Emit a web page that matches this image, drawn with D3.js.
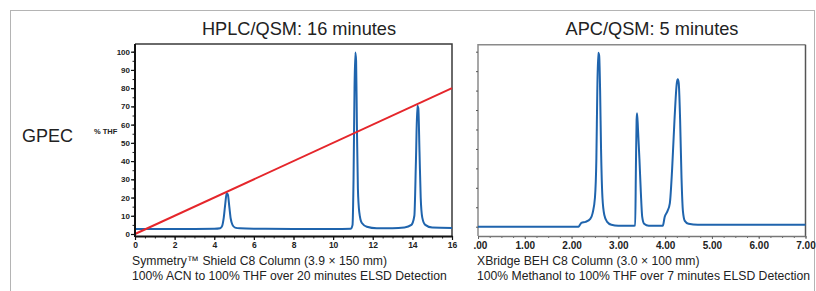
<!DOCTYPE html>
<html>
<head>
<meta charset="utf-8">
<script src="https://cdn.jsdelivr.net/npm/d3@7"></script>
<style>
  body { margin: 0; background: #fff; }
  svg { display: block; font-family: "Liberation Sans", Arial, sans-serif; }
</style>
</head>
<body>
<svg id="chart" width="816" height="291"></svg>
<script>
// ---- data ----
var hplcTrace = [
  [0, 2.8], [1, 2.8], [2, 2.8], [3, 2.8], [4, 2.9], [4.3, 3.2], [4.4, 4.5], [4.48, 9],
  [4.56, 17], [4.63, 22.5], [4.69, 21.5], [4.76, 15], [4.83, 8.5], [4.92, 5], [5.05, 3.5],
  [5.3, 3.1], [6, 2.9], [8, 2.8], [10, 2.8], [10.9, 2.9], [10.98, 5], [11.03, 30],
  [11.08, 80], [11.12, 99.5], [11.16, 95], [11.2, 60], [11.25, 25], [11.32, 12],
  [11.45, 6], [11.7, 4], [12.2, 3.2], [13, 3.2], [13.6, 3.6], [13.95, 5], [14.1, 10],
  [14.18, 40], [14.25, 70.3], [14.3, 69], [14.36, 45], [14.42, 20], [14.5, 9],
  [14.65, 5], [15, 3.5], [16, 3.3]
];
var hplcGradient = [[0, 0], [16, 80]];   // % THF
var hplcXTicks = [0, 2, 4, 6, 8, 10, 12, 14, 16];
var hplcYTicks = [0, 10, 20, 30, 40, 50, 60, 70, 80, 90, 100];

var apcTrace = [
  [0, 0], [1, 0], [2, 0], [2.15, 0], [2.18, 1], [2.21, 2], [2.3, 2.5], [2.4, 4],
  [2.45, 7], [2.5, 15], [2.53, 35], [2.55, 70], [2.57, 89.5], [2.59, 88], [2.61, 70],
  [2.63, 40], [2.66, 15], [2.7, 6], [2.76, 2.5], [2.85, 1], [3, 0.5], [3.3, 0.5],
  [3.36, 0.6], [3.375, 30], [3.39, 55], [3.4, 58.3], [3.42, 50], [3.45, 35],
  [3.48, 18], [3.51, 5], [3.55, 1.5], [3.65, 0.5], [3.95, 0.5], [3.99, 5], [4.05, 8],
  [4.1, 12], [4.15, 30], [4.2, 55], [4.25, 74], [4.27, 75.8], [4.29, 74], [4.32, 55],
  [4.35, 25], [4.38, 8], [4.42, 3], [4.5, 1.5], [4.7, 1], [5, 1], [6, 1], [7, 1]
];
var apcXTicks = [0, 1, 2, 3, 4, 5, 6, 7];
var apcYTicks = [0, 10, 20, 30, 40, 50, 60, 70, 80, 90];

var titles = ["HPLC/QSM: 16 minutes", "APC/QSM: 5 minutes"];
var hplcNotes = ["Symmetry\u2122 Shield C8 Column (3.9 \u00d7 150 mm)",
                 "100% ACN to 100% THF over 20 minutes ELSD Detection"];
var apcNotes = ["XBridge BEH C8 Column (3.0 \u00d7 100 mm)",
                "100% Methanol to 100% THF over 7 minutes ELSD Detection"];

var traceColor = "#1f64ad",
    gradColor = "#e5262b";

var svg = d3.select("#chart");

// outer frame
svg.append("rect")
  .attr("x", 10.5).attr("y", 10.5)
  .attr("width", 804).attr("height", 300)
  .attr("fill", "none").attr("stroke", "#b4b4b4").attr("stroke-width", 1);

svg.append("text")
  .attr("x", 22).attr("y", 142)
  .attr("font-size", 18).attr("fill", "#222")
  .text("GPEC");

//------------------------------------------------------------
// HPLC panel

var L = {left: 135, right: 452, top: 44, bottom: 236};

var x1 = d3.scaleLinear().domain([0, 16]).range([L.left, L.right]);
var y1 = d3.scaleLinear().domain([0, 100]).range([234, 51.7]);

var g1 = svg.append("g");

g1.append("text")
  .attr("x", 299).attr("y", 35)
  .attr("text-anchor", "middle").attr("font-size", 18.2).attr("fill", "#222")
  .text(titles[0]);

// top / right frame
g1.append("path")
  .attr("d", "M" + L.left + "," + L.top + "H" + L.right + "V" + L.bottom)
  .attr("fill", "none").attr("stroke", "#3a3a3a").attr("stroke-width", 1.5);

svg.append("defs").append("clipPath").attr("id", "clip1")
  .append("rect").attr("x", L.left).attr("y", L.top)
  .attr("width", L.right - L.left).attr("height", L.bottom - L.top);

var line1 = d3.line()
  .curve(d3.curveMonotoneX)
  .x(function(d) { return x1(d[0]); })
  .y(function(d) { return y1(d[1]); });

g1.append("path")
  .datum(hplcTrace)
  .attr("clip-path", "url(#clip1)")
  .attr("d", line1)
  .attr("fill", "none").attr("stroke", traceColor).attr("stroke-width", 2);

g1.append("path")
  .datum(hplcGradient)
  .attr("d", d3.line().x(function(d) { return x1(d[0]); }).y(function(d) { return y1(d[1]); }))
  .attr("fill", "none").attr("stroke", gradColor).attr("stroke-width", 2);

// minor ticks
var xAxis1Minor = d3.axisBottom(x1).tickValues(d3.range(0, 16.01, 0.5)).tickSize(2.5).tickFormat("");
g1.append("g").attr("transform", "translate(0," + L.bottom + ")").call(xAxis1Minor)
  .call(function(g) { g.select(".domain").remove(); g.selectAll("line").attr("stroke", "#222"); });

var yAxis1Minor = d3.axisLeft(y1).tickValues(d3.range(0, 100.1, 5)).tickSize(2.5).tickFormat("");
g1.append("g").attr("transform", "translate(" + L.left + ",0)").call(yAxis1Minor)
  .call(function(g) { g.select(".domain").remove(); g.selectAll("line").attr("stroke", "#222"); });

var xAxis1 = d3.axisBottom(x1).tickValues(hplcXTicks).tickSize(4).tickPadding(2).tickSizeOuter(0);
g1.append("g").attr("transform", "translate(0," + L.bottom + ")").call(xAxis1)
  .call(function(g) {
    g.select(".domain").attr("stroke", "#111").attr("stroke-width", 2);
    g.selectAll("line").attr("stroke", "#111").attr("stroke-width", 1.2);
    g.selectAll("text").attr("font-size", 8.5).attr("font-weight", "bold")
      .attr("fill", "#222").attr("font-family", "Liberation Sans, Arial, sans-serif");
  });

var yAxis1 = d3.axisLeft(y1).tickValues(hplcYTicks).tickSize(4).tickPadding(1).tickSizeOuter(0);
g1.append("g").attr("transform", "translate(" + L.left + ",0)").call(yAxis1)
  .call(function(g) {
    g.select(".domain").remove();
    g.selectAll("line").attr("stroke", "#111").attr("stroke-width", 1.2);
    g.selectAll("text").attr("font-size", 8).attr("font-weight", "bold")
      .attr("fill", "#222").attr("font-family", "Liberation Sans, Arial, sans-serif");
  });

g1.append("line")
  .attr("x1", L.left).attr("x2", L.left).attr("y1", L.top).attr("y2", L.bottom + 1)
  .attr("stroke", "#111").attr("stroke-width", 2);

g1.append("text")
  .attr("x", 94).attr("y", 134)
  .attr("font-size", 7.5).attr("font-weight", "bold").attr("fill", "#222")
  .text("% THF");

g1.selectAll("text.note")
  .data(hplcNotes)
  .enter().append("text")
  .attr("class", "note")
  .attr("x", 132).attr("y", function(d, i) { return 265 + i * 14.5; })
  .attr("font-size", 12.2).attr("fill", "#222")
  .text(function(d) { return d; });

//------------------------------------------------------------
// APC panel

var R = {left: 478, right: 805.5, top: 44.7, bottom: 236};

var x2 = d3.scaleLinear().domain([0, 7]).range([R.left, R.right]);
var y2 = d3.scaleLinear().domain([0, 90]).range([226.7, 51.7]);

var g2 = svg.append("g");

g2.append("text")
  .attr("x", 652).attr("y", 35)
  .attr("text-anchor", "middle").attr("font-size", 18.2).attr("fill", "#222")
  .text(titles[1]);

g2.append("path")
  .attr("d", "M" + R.left + "," + R.bottom + "V" + R.top + "H" + R.right)
  .attr("fill", "none").attr("stroke", "#8a8a8a").attr("stroke-width", 1.5);
g2.append("line")
  .attr("x1", R.right).attr("x2", R.right).attr("y1", R.top).attr("y2", R.bottom)
  .attr("stroke", "#555").attr("stroke-width", 1.5);

var line2 = d3.line()
  .curve(d3.curveMonotoneX)
  .x(function(d) { return x2(d[0]); })
  .y(function(d) { return y2(d[1]); });

g2.append("path")
  .datum(apcTrace)
  .attr("d", line2)
  .attr("fill", "none").attr("stroke", traceColor).attr("stroke-width", 2);

var xAxis2Minor = d3.axisBottom(x2).tickValues(d3.range(0, 7.01, 0.25)).tickSize(2).tickFormat("");
g2.append("g").attr("transform", "translate(0," + R.bottom + ")").call(xAxis2Minor)
  .call(function(g) { g.select(".domain").remove(); g.selectAll("line").attr("stroke", "#666"); });

var xAxis2 = d3.axisBottom(x2).tickValues(apcXTicks).tickSize(3).tickPadding(3).tickSizeOuter(0)
  .tickFormat(function(d) { return d === 0 ? ".00" : d3.format(".2f")(d); });
g2.append("g").attr("transform", "translate(0," + R.bottom + ")").call(xAxis2)
  .call(function(g) {
    g.select(".domain").attr("stroke", "#777").attr("stroke-width", 1.5);
    g.selectAll("line").attr("stroke", "#666");
    g.selectAll("text").attr("font-size", 10).attr("font-weight", "bold")
      .attr("fill", "#222").attr("font-family", "Liberation Sans, Arial, sans-serif");
    g.selectAll(".tick").filter(function(d) { return d === 0; }).select("text")
      .attr("text-anchor", "start").attr("x", -5);
  });

var yAxis2 = d3.axisLeft(y2).tickValues(apcYTicks).tickSize(2).tickFormat("");
g2.append("g").attr("transform", "translate(" + R.left + ",0)").call(yAxis2)
  .call(function(g) { g.select(".domain").remove(); g.selectAll("line").attr("stroke", "#555"); });

g2.selectAll("text.note")
  .data(apcNotes)
  .enter().append("text")
  .attr("class", "note")
  .attr("x", 477).attr("y", function(d, i) { return 265 + i * 14.5; })
  .attr("font-size", 12.2).attr("fill", "#222")
  .text(function(d) { return d; });
</script>
</body>
</html>
